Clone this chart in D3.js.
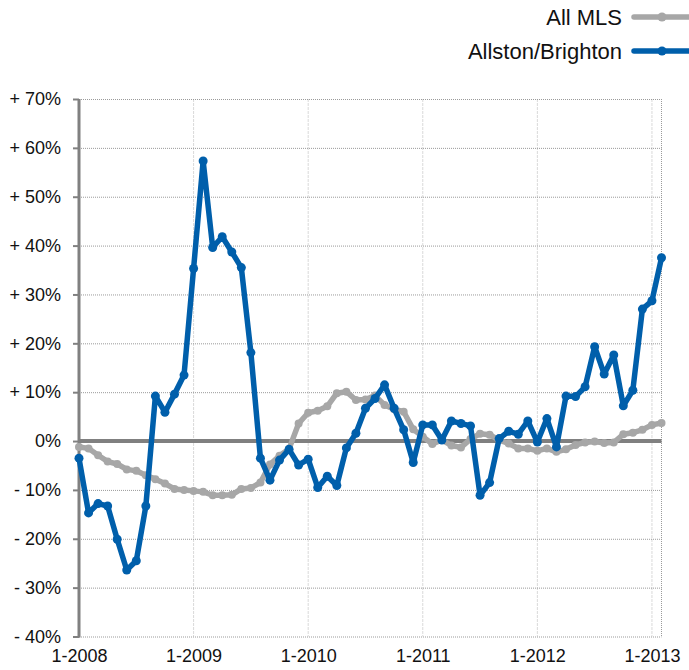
<!DOCTYPE html>
<html>
<head>
<meta charset="utf-8">
<script src="https://cdn.jsdelivr.net/npm/d3@7"></script>
<style>
  html, body { margin: 0; padding: 0; background: #fff; }
  svg { display: block; font-family: "Liberation Sans", Arial, Helvetica, sans-serif; }
</style>
</head>
<body>
<svg id="chart" width="689" height="670"></svg>
<script>
// ---- Data ----
const months = d3.range(62); // Jan 2008 .. Feb 2013, monthly
const tickIndex = [0, 12, 24, 36, 48, 60];
const tickLabels = ["1-2008", "1-2009", "1-2010", "1-2011", "1-2012", "1-2013"];
const yTicks = [70, 60, 50, 40, 30, 20, 10, 0, -10, -20, -30, -40];
const seriesNames = ["All MLS", "Allston/Brighton"];

const allMLS = [
  -1.2, -1.5, -2.9, -4.2, -4.7, -5.8, -6.1, -7.0, -7.8, -8.7, -9.8, -10.0,
  -10.2, -10.4, -11.1, -11.1, -11.0, -9.8, -9.6, -8.5, -4.8, -3.0, -1.6, 3.6,
  5.8, 6.2, 7.1, 9.8, 10.1, 8.4, 8.5, 9.3, 7.4, 6.5, 6.0, 2.4,
  0.9, -0.6, 0.2, -0.9, -1.3, 0.4, 1.5, 1.3, 0.2, -0.5, -1.5, -1.5,
  -2.0, -1.5, -2.2, -1.7, -0.8, -0.3, -0.1, -0.4, -0.3, 1.4, 1.7, 2.3,
  3.3, 3.7
];
const allstonBrighton = [
  -3.5, -14.7, -12.8, -13.3, -20.1, -26.4, -24.5, -13.3, 9.2, 5.9, 9.6, 13.5,
  35.3, 57.3, 39.6, 41.8, 38.7, 35.5, 18.1, -3.5, -8.0, -3.9, -1.7, -4.9,
  -3.7, -9.5, -7.2, -9.1, -1.4, 1.6, 6.7, 8.7, 11.5, 6.7, 2.3, -4.4,
  3.3, 3.3, 0.2, 4.1, 3.6, 3.1, -11.1, -8.5, 0.5, 2.0, 1.4, 4.1,
  -0.2, 4.6, -1.2, 9.2, 9.1, 11.1, 19.3, 13.7, 17.6, 7.2, 10.4, 27.0,
  28.7, 37.5
];

// ---- Layout ----
const svg = d3.select("#chart");
const mLeft = 79, mRight = 661.5, mTop = 99, mBottom = 636.5;
const x = d3.scaleLinear().domain([0, 61]).range([mLeft, mRight]);
const y = d3.scaleLinear().domain([-40, 70]).range([mBottom, mTop]);

const colors = { gray: "#a7a7a7", blue: "#005fab", axis: "#808080" };
const fontFam = "'Liberation Sans', Arial, Helvetica, sans-serif";

// vertical year gridlines
svg.append("g").selectAll("line")
  .data(tickIndex.filter(d => d > 0))
  .join("line")
  .attr("x1", d => x(d)).attr("x2", d => x(d))
  .attr("y1", mTop).attr("y2", mBottom)
  .attr("stroke", "#d9d9d9").attr("stroke-width", 1)
  .attr("stroke-dasharray", "3,1");

// horizontal dotted gridlines
svg.append("g").selectAll("line")
  .data(yTicks.filter(d => d !== 0))
  .join("line")
  .attr("x1", mLeft).attr("x2", mRight)
  .attr("y1", d => y(d) + 0.5).attr("y2", d => y(d) + 0.5)
  .attr("stroke", "#9a9a9a").attr("stroke-width", 1)
  .attr("stroke-dasharray", "1,1");

// right border dotted
svg.append("line")
  .attr("x1", mRight).attr("x2", mRight)
  .attr("y1", mTop).attr("y2", mBottom)
  .attr("stroke", "#9a9a9a").attr("stroke-width", 1)
  .attr("stroke-dasharray", "1,1");

// y axis
const yAxis = d3.axisLeft(y)
  .tickValues(yTicks)
  .tickSize(6)
  .tickPadding(12)
  .tickFormat(d => d > 0 ? "+ " + d + "%" : d < 0 ? "- " + Math.abs(d) + "%" : "0%");
const gy = svg.append("g").attr("transform", `translate(${mLeft},0)`).call(yAxis);
gy.select(".domain").attr("stroke", colors.axis).attr("stroke-width", 3)
  .attr("d", `M0,${mTop}V${mBottom + 1}`);
gy.selectAll(".tick line").attr("stroke", colors.axis).attr("stroke-width", 2);
gy.selectAll(".tick text").attr("font-size", 18).attr("fill", "#111")
  .attr("font-family", fontFam);

// x axis labels
const xAxis = d3.axisBottom(x)
  .tickValues(tickIndex)
  .tickSize(0)
  .tickPadding(13)
  .tickFormat((d, i) => tickLabels[i]);
const gx = svg.append("g").attr("transform", `translate(0,${mBottom})`).call(xAxis);
gx.select(".domain").remove();
gx.selectAll(".tick text").attr("font-size", 18).attr("fill", "#111")
  .attr("font-family", fontFam);

// zero line
svg.append("line")
  .attr("x1", mLeft).attr("x2", mRight)
  .attr("y1", y(0)).attr("y2", y(0))
  .attr("stroke", colors.axis).attr("stroke-width", 4);

// series
const line = d3.line().x((d, i) => x(i)).y(d => y(d));
function drawSeries(data, color, width, r) {
  const g = svg.append("g");
  g.append("path").datum(data)
    .attr("d", line)
    .attr("fill", "none").attr("stroke", color)
    .attr("stroke-width", width).attr("stroke-linejoin", "round").attr("stroke-linecap", "round");
  g.selectAll("circle").data(data).join("circle")
    .attr("cx", (d, i) => x(i)).attr("cy", d => y(d))
    .attr("r", r).attr("fill", color);
}
drawSeries(allMLS, colors.gray, 5.5, 4);
drawSeries(allstonBrighton, colors.blue, 5.5, 4.5);

// legend
const legend = svg.append("g");
const legendItems = [
  { name: seriesNames[0], color: colors.gray, y: 17 },
  { name: seriesNames[1], color: colors.blue, y: 51 }
];
legendItems.forEach(it => {
  legend.append("text")
    .attr("x", 622).attr("y", it.y)
    .attr("dy", "0.35em")
    .attr("text-anchor", "end")
    .attr("font-size", 22).attr("fill", "#111")
    .attr("font-family", fontFam)
    .text(it.name);
  legend.append("line")
    .attr("x1", 634).attr("x2", 692)
    .attr("y1", it.y).attr("y2", it.y)
    .attr("stroke", it.color).attr("stroke-width", 5.5).attr("stroke-linecap", "round");
  legend.append("circle")
    .attr("cx", 662).attr("cy", it.y).attr("r", 4.5).attr("fill", it.color);
});
</script>
</body>
</html>
